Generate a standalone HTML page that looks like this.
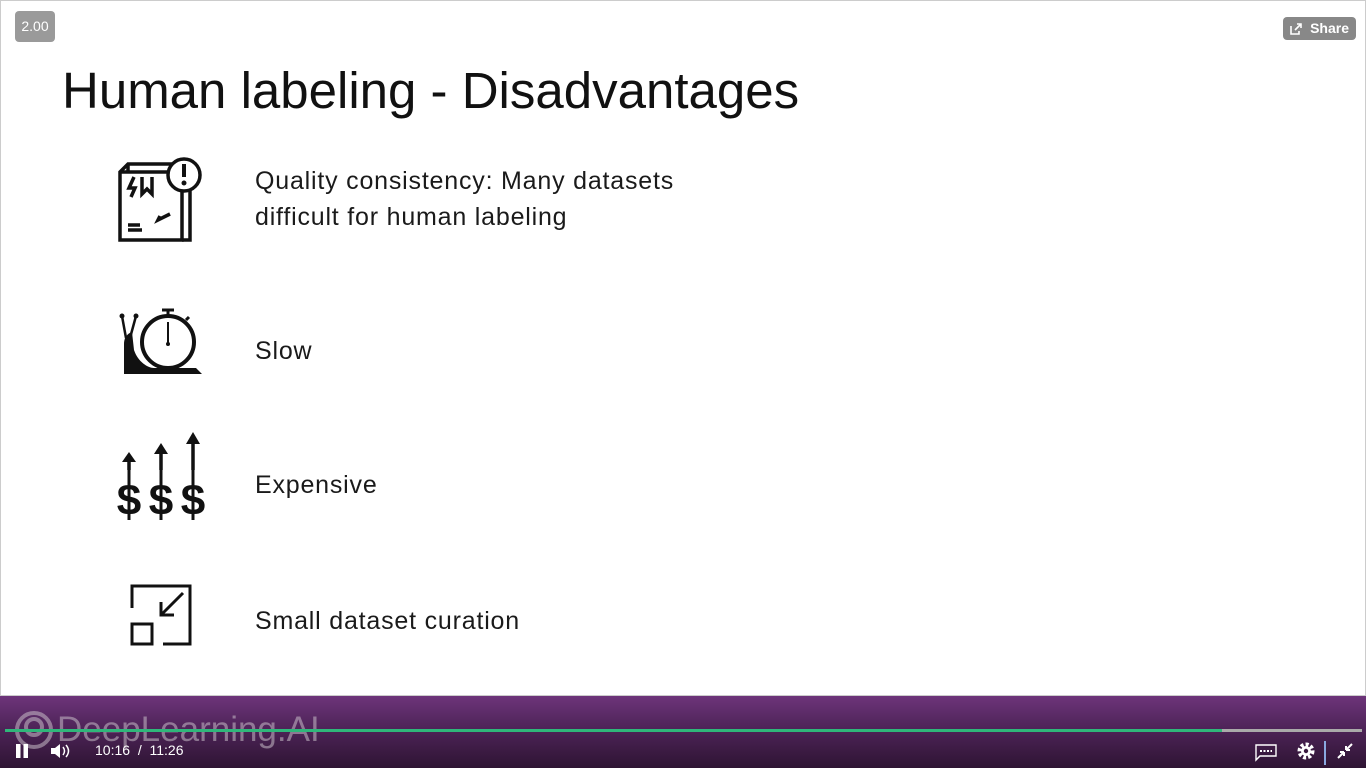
<!DOCTYPE html>
<html><head><meta charset="utf-8">
<style>
html,body{margin:0;padding:0;width:1366px;height:768px;overflow:hidden;background:#fff;font-family:"Liberation Sans",sans-serif;}
.abs{position:absolute;}
.title{left:62px;top:61px;font-size:51px;color:#111;white-space:nowrap;}
.item{left:255px;font-size:25px;letter-spacing:0.8px;color:#1a1a1a;line-height:36px;white-space:nowrap;}
</style></head><body>
<div class="abs" style="left:0;top:0;width:1366px;height:696px;border:1px solid #ccc;box-sizing:border-box;"></div>
<div class="abs" style="left:15px;top:11px;width:40px;height:31px;background:#9a9a9a;border-radius:4px;color:#fff;font-size:14px;line-height:31px;text-align:center;">2.00</div>
<div class="abs" style="left:1283px;top:17px;width:73px;height:23px;background:#888;border-radius:4px;color:#fff;font-size:14px;font-weight:bold;line-height:23px;text-align:right;padding-right:7px;box-sizing:border-box;">Share</div>
<svg class="abs" style="left:1289px;top:22px" width="14" height="14"><path d="M2 4v8h8v-3M6 8l6-6M8 2h4v4" stroke="#fff" stroke-width="1.6" fill="none"/></svg>

<div class="abs title">Human labeling - Disadvantages</div>

<div class="abs item" style="top:163px;">Quality consistency: Many datasets<br>difficult for human labeling</div>
<div class="abs item" style="top:333px;">Slow</div>
<div class="abs item" style="top:467px;">Expensive</div>
<div class="abs item" style="top:603px;">Small dataset curation</div>

<svg class="abs" style="left:110px;top:150px" width="100" height="100">
<g stroke="#111" stroke-width="3.5" fill="none">
<path d="M10 22l8-8h54v76H10z"/><path d="M10 22h62"/><path d="M18 14v8"/>
<path d="M24 27l-5 11h6l-4 9"/><path d="M32 27v17l5-5 5 5V27"/>
<path d="M60 64l-12 6 2-4"/><path d="M18 75h12M18 80h14"/>
<path d="M80 40v50l-8 0"/>
<circle cx="74" cy="25" r="16" fill="#fff"/></g>
<path d="M74 14v13" stroke="#111" stroke-width="4"/><circle cx="74" cy="33" r="2.5" fill="#111"/>
</svg>

<svg class="abs" style="left:110px;top:300px" width="100" height="80">
<path d="M14 44c0-10 8-12 8-12l2 18c4 12 14 18 20 18h42l6 6H14z" fill="#111"/>
<path d="M16 38l-4-22M20 38l6-22" stroke="#111" stroke-width="2.5"/>
<circle cx="12" cy="16" r="2.5" fill="#111"/><circle cx="26" cy="16" r="2.5" fill="#111"/>
<circle cx="58" cy="42" r="26" fill="#fff" stroke="#111" stroke-width="4"/>
<path d="M58 22v22" stroke="#111" stroke-width="2"/><circle cx="58" cy="44" r="2" fill="#111"/>
<path d="M52 10h12M58 10v6M76 20l3-3" stroke="#111" stroke-width="3"/>
</svg>

<svg class="abs" style="left:110px;top:430px" width="100" height="95">
<g fill="#111"><path d="M12 32l7-10 7 10z"/><path d="M44 24l7-11 7 11z"/><path d="M76 14l7-12 7 12z"/></g>
<g stroke="#111" stroke-width="3.5" fill="none">
<path d="M19 30v10M51 22v18M83 12v28"/>
<path d="M19 40v50M51 40v50M83 40v50" stroke-width="3"/>
</g>
<g font-family="Liberation Sans,sans-serif" font-size="44" font-weight="bold" fill="#111" text-anchor="middle"><text x="19" y="85">$</text><text x="51" y="85">$</text><text x="83" y="85">$</text></g>
</svg>

<svg class="abs" style="left:125px;top:580px" width="72" height="70">
<g stroke="#111" stroke-width="3" fill="none">
<path d="M7 28V6h58v58H38"/><rect x="7" y="44" width="20" height="20"/>
<path d="M58 13L36 35M36 22v13h13"/></g>
</svg>

<div class="abs" style="left:0;top:696px;width:1366px;height:72px;background:linear-gradient(#6d347a,#4e2458 45%,#2e1433);"></div>
<div class="abs" style="left:57px;top:710px;font-size:35px;color:rgba(200,190,200,0.55);">DeepLearning.AI</div>
<svg class="abs" style="left:14px;top:710px" width="40" height="40"><g stroke="rgba(200,190,200,0.55)" stroke-width="4" fill="none"><circle cx="20" cy="20" r="17"/><circle cx="20" cy="17" r="8"/></g></svg>
<div class="abs" style="left:5px;top:729px;width:1357px;height:3px;background:#aaa;"></div>
<div class="abs" style="left:5px;top:729px;width:1217px;height:3px;background:#2fb77a;"></div>
<svg class="abs" style="left:15px;top:743px" width="60" height="18">
<rect x="1" y="1" width="4.5" height="14" fill="#fff"/><rect x="8.5" y="1" width="4.5" height="14" fill="#fff"/>
<path d="M36 5h4l5-4v14l-5-4h-4z" fill="#fff"/><path d="M48 4q3 4 0 8M51 2q5 6 0 12" stroke="#fff" stroke-width="1.5" fill="none"/>
</svg>
<div class="abs" style="left:95px;top:742px;font-size:14px;color:#fff;">10:16 &nbsp;/ &nbsp;11:26</div>
<svg class="abs" style="left:1254px;top:741px" width="110" height="24">
<path d="M2 4h20v11H6l-4 4z" stroke="#fff" stroke-width="1.4" fill="none"/><path d="M6 10h12" stroke="#fff" stroke-dasharray="2 1.5" stroke-width="2"/>
<circle cx="52" cy="10" r="6.5" fill="none" stroke="#fff" stroke-width="4" stroke-dasharray="3 2"/><circle cx="52" cy="10" r="5" fill="#fff"/><circle cx="52" cy="10" r="2.2" fill="#3a1a40"/>
<path d="M71 -2v26" stroke="#8aa8e0" stroke-width="2"/>
<path d="M84 17l6-6M90 11v4M90 11h-4M98 3l-6 6M92 9v-4M92 9h4" stroke="#fff" stroke-width="2"/>
</svg>
</body></html>
